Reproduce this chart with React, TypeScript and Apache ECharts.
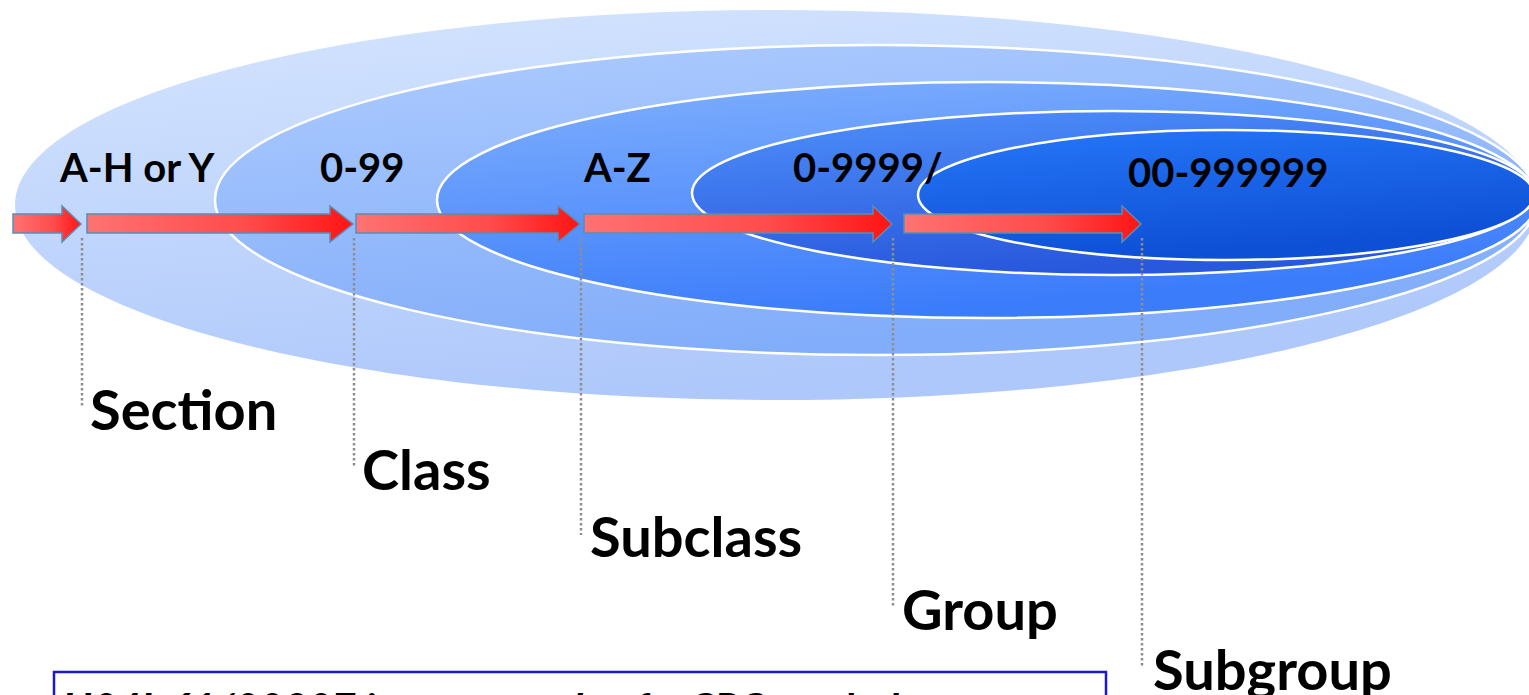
import React, { useEffect, useRef } from "react";
import * as echarts from "echarts";

// Hierarchy levels and their code ranges
const levelNames = ["Section", "Class", "Subclass", "Group", "Subgroup"];
const codeRanges = ["A-H or Y", "0-99", "A-Z", "0-9999/", "00-999999"];
const exampleText = "H04L 61/00807 is an example of a CPC symbol";

// Layout (positions only)
const ellipses = [
  { cx: 776, cy: 205, rx: 761, ry: 195, c0: "#d5e5fe", c1: "#aec8fb", stroke: false },
  { cx: 876, cy: 200, rx: 661, ry: 155, c0: "#adcbfe", c1: "#82adfa", stroke: true },
  { cx: 987, cy: 200, rx: 550, ry: 118, c0: "#80b0fd", c1: "#3b7cfb", stroke: true },
  { cx: 1113, cy: 193, rx: 421, ry: 82, c0: "#4f90fb", c1: "#2858dc", stroke: true },
  { cx: 1226, cy: 195, rx: 308, ry: 65, c0: "#2677f9", c1: "#0d4fd5", stroke: true },
];
const arrowX = [
  [13, 62, 81],
  [87, 330, 353],
  [356, 558, 580],
  [584, 873, 892],
  [904, 1122, 1141],
];
const codeX = [60, 320, 584, 793, 1128];
const codeY = [167, 167, 167, 167, 172];
const levelX = [90, 362, 590, 902, 1153];
const levelY = [408, 468, 535, 608, 668];

export default function App() {
  const ref = useRef<HTMLDivElement>(null);
  useEffect(() => {
    if (!ref.current) return;
    const chart = echarts.init(ref.current, null, { renderer: "svg" });
    const els: any[] = [];
    ellipses.forEach((e, i) => {
      els.push({
        type: "ellipse",
        z: 1 + i,
        shape: { cx: e.cx, cy: e.cy, rx: e.rx, ry: e.ry },
        style: {
          fill: new echarts.graphic.LinearGradient(0, 0, 0.35, 1, [
            { offset: 0, color: e.c0 },
            { offset: 1, color: e.c1 },
          ]),
          stroke: e.stroke ? "#ffffff" : "none",
          lineWidth: e.stroke ? 2.5 : 0,
        },
      });
    });
    const bTop = 214,
      bBot = 233,
      hTop = 206,
      hBot = 242,
      mid = 224;
    arrowX.forEach((a, i) => {
      const [s, h, t] = a;
      els.push({
        type: "polygon",
        z: 20,
        shape: {
          points: [
            [s, bTop],
            [h, bTop],
            [h, hTop],
            [t, mid],
            [h, hBot],
            [h, bBot],
            [s, bBot],
          ],
        },
        style: {
          fill: new echarts.graphic.LinearGradient(0, 0, 1, 0, [
            { offset: 0, color: "#ff7272" },
            { offset: 0.6, color: "#ff4b4b" },
            { offset: 1, color: "#ff1414" },
          ]),
          stroke: "#5b8db5",
          lineWidth: 1.5,
        },
      });
      els.push({
        type: "line",
        z: 19,
        shape: { x1: t + 1, y1: 238, x2: t + 1, y2: levelY[i] },
        style: { stroke: "#8e8e8e", lineWidth: 2.5, lineDash: [2.5, 2.5] },
      });
      els.push({
        type: "text",
        z: 30,
        x: codeX[i],
        y: codeY[i],
        style: {
          text: codeRanges[i],
          fill: "#000",
          font: "bold 40px Lato",
          verticalAlign: "middle",
          align: "left",
        },
      });
      els.push({
        type: "text",
        z: 30,
        x: levelX[i],
        y: levelY[i],
        style: {
          text: levelNames[i],
          fill: "#000",
          font: "bold 56px Lato",
          verticalAlign: "middle",
          align: "left",
        },
      });
    });
    els.push({
      type: "rect",
      z: 30,
      shape: { x: 54, y: 672, width: 1052, height: 60 },
      style: { fill: "#ffffff", stroke: "#1a1acc", lineWidth: 2.5 },
    });
    els.push({
      type: "text",
      z: 31,
      x: 62,
      y: 708,
      style: {
        text: exampleText,
        fill: "#000",
        font: "italic bold 42px Lato",
        verticalAlign: "middle",
        align: "left",
      },
    });
    chart.setOption({ animation: false, graphic: { elements: els } });
    return () => chart.dispose();
  }, []);
  return (
    <div
      ref={ref}
      style={{ position: "fixed", left: 0, top: 0, width: 1529, height: 695, background: "#fff" }}
    />
  );
}
